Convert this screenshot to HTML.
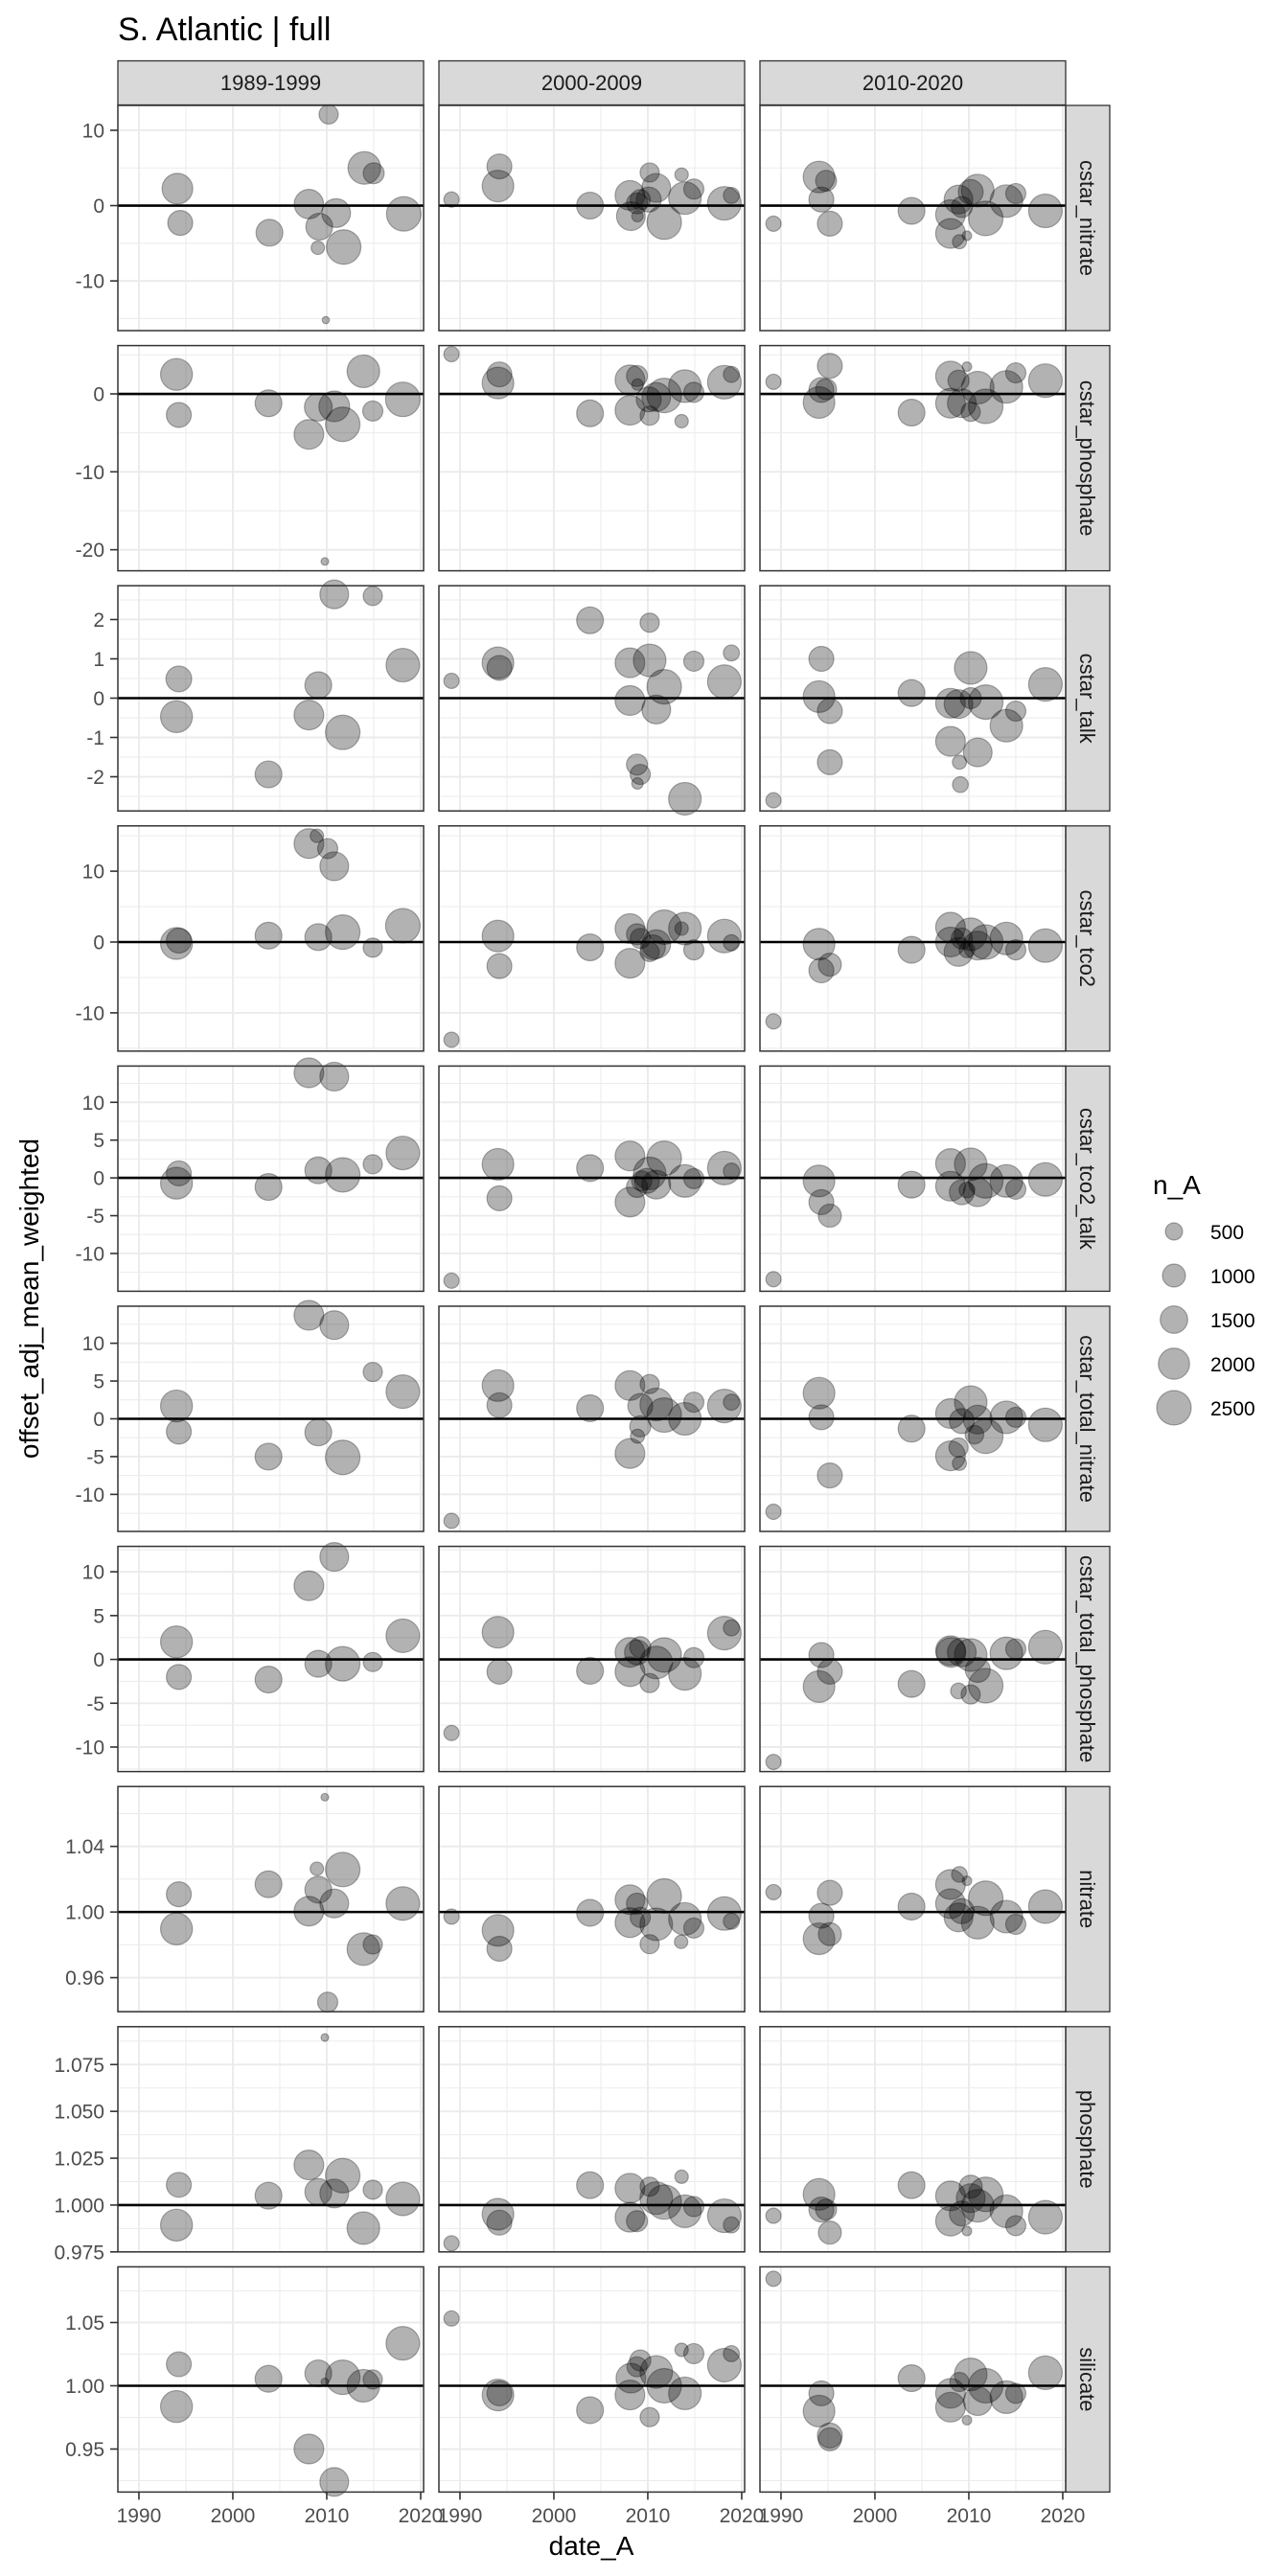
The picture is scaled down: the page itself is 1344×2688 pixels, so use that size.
<!DOCTYPE html>
<html><head><meta charset="utf-8">
<style>
html,body{margin:0;padding:0;background:#fff;}
svg{display:block;font-family:"Liberation Sans",sans-serif;}
</style></head>
<body>
<svg id="chart" width="1344" height="2688" viewBox="0 0 1344 2688" xmlns="http://www.w3.org/2000/svg">
<rect width="1344" height="2688" fill="#fff"/>
<text x="123" y="42" font-size="34" fill="#000">S. Atlantic | full</text>
<text x="617" y="2666" font-size="28" text-anchor="middle" fill="#000">date_A</text>
<text x="0" y="0" font-size="28" text-anchor="middle" fill="#000" transform="translate(40,1355) rotate(-90)">offset_adj_mean_weighted</text>
<g id="panels"></g>
<g id="legend">
<text x="1203" y="1246" font-size="28" fill="#000">n_A</text>
</g>
</svg>
<script>
const colLabels = ["1989-1999","2000-2009","2010-2020"];
const rowLabels = ["cstar_nitrate","cstar_phosphate","cstar_talk","cstar_tco2","cstar_tco2_talk","cstar_total_nitrate","cstar_total_phosphate","nitrate","phosphate","silicate"];
const yDomains = [[-16.6,13.3],[-22.7,6.2],[-2.87,2.86],[-15.4,16.4],[-15.0,14.8],[-14.9,14.9],[-12.8,12.9],[0.9392,1.0765],[0.975,1.0952],[0.916,1.094]];
const yTicks = [[-10,0,10],[-20,-10,0],[-2,-1,0,1,2],[-10,0,10],[-10,-5,0,5,10],[-10,-5,0,5,10],[-10,-5,0,5,10],[0.96,1.00,1.04],[0.975,1.000,1.025,1.050,1.075],[0.95,1.00,1.05]];
const yMinor = [[-15,-5,5],[-15,-5,5],[-2.5,-1.5,-0.5,0.5,1.5,2.5],[-15,-5,5,15],[-12.5,-7.5,-2.5,2.5,7.5,12.5],[-12.5,-7.5,-2.5,2.5,7.5,12.5],[-12.5,-7.5,-2.5,2.5,7.5,12.5],[0.94,0.98,1.02,1.06],[0.9875,1.0125,1.0375,1.0625,1.0875],[0.925,0.975,1.025,1.075]];
const yDigits = [0,0,0,0,0,0,0,2,3,2];
const refLines = [0,0,0,0,0,0,0,1,1,1];
const xTicks = [1990,2000,2010,2020];
const xMinor = [1995,2005,2015];
const legendValues = [500,1000,1500,2000,2500];

const panels = [
// row 0 cstar_nitrate
{row:0,col:0,year:[1994.1,1994.4,2003.9,2008.1,2010.2,2009.2,2009.05,2011.0,2011.8,2009.9,2014.0,2015.0,2018.2],
 value:[2.25,-2.3,-3.6,0.2,12.1,-2.8,-5.6,-1.0,-5.5,-15.2,5.0,4.3,-1.1],
 n:[1925,1200,1420,1740,650,1420,265,1660,2500,40,2200,800,2500]},
{row:0,col:1,year:[1989.1,1994.2,1994.05,2003.85,2008.1,2008.2,2008.85,2009.2,2008.9,2010.2,2010.9,2010.1,2011.75,2013.6,2013.95,2014.9,2018.15,2018.9],
 value:[0.8,5.2,2.6,0,1.35,-1.4,0.3,0.8,-1.4,4.4,2.35,0.8,-2.2,4.1,1.0,2.2,0.3,1.35],
 n:[370,1200,2060,1420,1790,1660,810,730,170,650,1660,1200,2500,265,2200,730,2350,420]},
{row:0,col:2,year:[1989.2,1994.05,1994.8,1994.3,1995.2,2003.9,2008.05,2008.05,2008.9,2009.0,2009.8,2009.25,2010.2,2010.95,2011.8,2014.0,2015.0,2018.15],
 value:[-2.4,3.8,3.3,0.8,-2.4,-0.7,-1.2,-3.7,0.8,-4.8,-4.0,-0.2,1.8,2.0,-1.7,0.6,1.6,-0.7],
 n:[370,2060,800,1200,1200,1420,1790,1790,1660,300,100,810,1200,2200,2500,2200,730,2350]},
// row 1 cstar_phosphate
{row:1,col:0,year:[1994.0,1994.25,2003.8,2008.1,2009.1,2009.8,2010.8,2011.7,2013.9,2014.9,2018.1],
 value:[2.5,-2.7,-1.2,-5.2,-1.7,-21.5,-1.6,-3.9,2.9,-2.2,-0.7],
 n:[2100,1200,1420,1790,1540,50,1925,2500,2200,730,2500]},
{row:1,col:1,year:[1989.1,1994.2,1994.05,2003.85,2008.1,2008.1,2008.85,2008.9,2010.2,2010.9,2010.1,2011.75,2013.6,2013.95,2014.9,2018.15,2018.9],
 value:[5.1,2.5,1.4,-2.5,1.8,-2.1,2.3,1.2,-2.8,-0.4,-0.7,-0.2,-3.5,1.0,0.2,1.5,2.5],
 n:[370,1200,2060,1420,1790,1790,810,170,650,1660,1200,2500,265,2200,730,2350,420]},
{row:1,col:2,year:[1989.2,1995.2,1994.05,1994.3,1994.8,2003.9,2008.05,2008.05,2008.9,2009.25,2009.8,2010.2,2010.95,2011.8,2014.0,2015.0,2018.15],
 value:[1.55,3.6,-1.1,0.5,0.6,-2.4,2.3,-1.2,1.7,-1.2,3.5,-2.3,0.8,-1.6,0.9,2.7,1.7],
 n:[370,1200,2060,1200,800,1420,1790,1790,810,1660,100,650,2200,2500,2200,730,2350]},
// row 2 cstar_talk
{row:2,col:0,year:[1994.0,1994.25,2003.8,2008.1,2009.1,2010.8,2011.7,2014.9,2018.1],
 value:[-0.47,0.49,-1.94,-0.43,0.33,2.64,-0.87,2.6,0.84],
 n:[2100,1300,1420,1790,1420,1660,2500,650,2350]},
{row:2,col:1,year:[1989.1,1994.2,1994.05,2003.85,2008.1,2008.1,2008.85,2008.9,2009.2,2010.2,2010.2,2010.9,2011.75,2013.95,2014.9,2018.15,2018.9],
 value:[0.44,0.77,0.9,1.98,0.9,-0.06,-1.69,-2.17,-1.94,1.92,0.96,-0.29,0.29,-2.56,0.94,0.42,1.15],
 n:[370,1200,2060,1420,1790,1790,810,170,730,650,2200,1660,2500,2200,730,2350,420]},
{row:2,col:2,year:[1989.2,1994.3,1994.05,1995.2,1995.2,2003.9,2008.05,2008.05,2008.9,2009.0,2009.1,2010.2,2010.95,2010.2,2011.8,2014.0,2015.0,2018.15],
 value:[-2.6,1.0,0.04,-0.33,-1.63,0.13,-0.13,-1.1,-0.15,-1.63,-2.2,0.77,-1.38,0,-0.1,-0.7,-0.33,0.35],
 n:[370,1200,2060,1200,1200,1420,1790,1790,1660,300,400,2200,1660,810,2500,2200,730,2350]},
// row 3 cstar_tco2
{row:3,col:0,year:[1994.0,1994.25,2003.8,2008.1,2008.95,2010.1,2010.8,2009.1,2011.7,2014.9,2018.1],
 value:[-0.2,0.2,0.9,13.9,15.0,13.2,10.7,0.7,1.4,-0.8,2.3],
 n:[2100,1200,1420,1790,265,730,1660,1420,2500,650,2500]},
{row:3,col:1,year:[1989.1,1994.05,1994.2,2003.85,2008.1,2008.1,2008.85,2009.2,2010.2,2010.9,2011.75,2010.55,2013.6,2013.95,2014.9,2018.15,2018.9],
 value:[-13.8,0.85,-3.4,-0.75,1.9,-3.0,1.1,0.5,-1.4,-0.3,2.1,-0.75,1.9,1.9,-1.1,0.85,-0.1],
 n:[370,2060,1200,1420,1790,1790,810,730,650,1660,2500,1200,265,2200,730,2350,420]},
{row:3,col:2,year:[1989.2,1994.05,1994.3,1995.2,2003.9,2008.05,2008.05,2008.9,2009.25,2009.8,2010.2,2010.95,2011.8,2014.0,2015.0,2018.15],
 value:[-11.2,-0.3,-4.0,-3.2,-1.1,2.1,0,-1.4,0.5,-1.1,1.1,-0.5,0,0.5,-1.1,-0.5],
 n:[370,2060,1200,1000,1420,1790,1790,1660,810,400,2200,1660,2500,2200,730,2350]},
// row 4 cstar_tco2_talk
{row:4,col:0,year:[1994.0,1994.25,2003.8,2008.1,2010.8,2009.1,2011.7,2014.9,2018.1],
 value:[-0.7,0.6,-1.2,13.9,13.4,1.0,0.4,1.8,3.3],
 n:[2100,1200,1420,1790,1660,1420,2500,650,2350]},
{row:4,col:1,year:[1989.1,1994.05,1994.2,2003.85,2008.1,2008.1,2008.85,2009.35,2010.2,2010.9,2011.75,2009.9,2013.95,2014.9,2018.15,2018.9],
 value:[-13.6,1.8,-2.7,1.3,2.9,-3.2,-1.2,-0.4,0.6,-0.9,2.6,-0.4,-0.4,-0.1,1.3,0.9],
 n:[370,2060,1200,1420,1790,1790,810,730,2200,1660,2500,1200,2200,730,2350,420]},
{row:4,col:2,year:[1989.2,1994.05,1994.3,1995.2,2003.9,2008.05,2008.05,2009.25,2010.2,2010.95,2011.8,2014.0,2015.0,2018.15,2009.8],
 value:[-13.4,-0.4,-3.2,-5.0,-0.9,1.9,-1.1,-1.9,1.8,-1.9,-0.4,-0.4,-1.5,-0.2,-1.6],
 n:[370,2060,1200,1000,1420,1790,1790,1200,2200,1660,2500,2200,730,2350,400]},
// row 5 cstar_total_nitrate
{row:5,col:0,year:[1994.0,1994.25,2003.8,2008.1,2010.8,2009.1,2011.7,2014.9,2018.1],
 value:[1.7,-1.7,-5.0,13.7,12.4,-1.8,-5.1,6.2,3.6],
 n:[2100,1200,1420,1790,1660,1420,2500,650,2350]},
{row:5,col:1,year:[1989.1,1994.05,1994.2,2003.85,2008.1,2008.1,2009.2,2008.9,2010.2,2010.9,2011.75,2013.95,2014.9,2018.15,2018.9,2009.2],
 value:[-13.5,4.4,1.8,1.4,4.4,-4.6,-1.0,-2.3,4.6,1.9,0.5,0,2.2,1.7,2.2,1.7],
 n:[370,2060,1200,1420,1790,1790,810,300,650,2200,2500,2200,730,2350,420,1200]},
{row:5,col:2,year:[1989.2,1994.05,1994.3,1995.2,2003.9,2008.05,2008.05,2008.9,2009.0,2009.25,2010.2,2010.6,2010.95,2011.8,2014.0,2015.0,2018.15],
 value:[-12.3,3.4,0.2,-7.5,-1.3,0.7,-4.9,-3.8,-5.9,-0.3,2.2,-2.1,-0.1,-2.3,0.2,0.2,-0.8],
 n:[370,2060,1200,1200,1420,1790,1790,650,300,1200,2200,600,1660,2500,2200,730,2350]},
// row 6 cstar_total_phosphate
{row:6,col:0,year:[1994.0,1994.25,2003.8,2008.1,2010.8,2009.1,2011.7,2014.9,2018.1],
 value:[2.0,-2.0,-2.3,8.4,11.7,-0.5,-0.5,-0.3,2.7],
 n:[2100,1200,1420,1790,1660,1420,2500,650,2350]},
{row:6,col:1,year:[1989.1,1994.05,1994.2,2003.85,2008.1,2008.1,2009.2,2010.2,2010.9,2011.75,2013.95,2014.9,2018.15,2018.9,2008.85],
 value:[-8.4,3.1,-1.4,-1.3,0.8,-1.4,1.4,-2.7,-0.35,0.5,-1.65,0.2,3.0,3.6,0.8],
 n:[370,2060,1200,1420,1790,1790,810,650,2200,2500,2200,730,2350,420,1200]},
{row:6,col:2,year:[1989.2,1994.3,1994.05,1995.2,2003.9,2008.05,2008.1,2009.25,2008.9,2010.2,2010.2,2010.95,2011.8,2014.0,2015.0,2018.15],
 value:[-11.7,0.5,-3.1,-1.4,-2.8,1.0,0.8,0.8,-3.6,-4.0,0.5,-1.2,-3.0,0.7,1.2,1.4],
 n:[370,1200,2060,1200,1420,1790,1790,1660,400,650,2200,1200,2500,2200,730,2350]},
// row 7 nitrate
{row:7,col:0,year:[1994.0,1994.25,2003.8,2008.1,2008.95,2009.8,2009.1,2010.1,2010.8,2011.7,2013.9,2014.9,2018.1],
 value:[0.9897,1.0108,1.0169,1.0005,1.0264,1.070,1.0136,0.945,1.0052,1.0259,0.9774,0.9802,1.0052],
 n:[2100,1200,1420,1790,265,50,1420,730,1660,2500,2200,650,2350]},
{row:7,col:1,year:[1989.1,1994.05,1994.2,2003.85,2008.1,2008.1,2008.85,2009.2,2010.2,2010.9,2011.75,2013.55,2013.95,2014.9,2018.15,2018.9],
 value:[0.9972,0.9888,0.9776,0.9995,1.0075,0.9935,1.0051,0.9967,0.9804,0.9925,1.0098,0.9818,0.9958,0.9902,0.9991,0.9944],
 n:[370,2060,1200,1420,1790,1790,810,730,650,2200,2500,265,2200,730,2350,420]},
{row:7,col:2,year:[1989.2,1994.05,1994.3,1995.2,1995.2,2003.9,2008.05,2008.05,2009.0,2009.8,2009.25,2008.9,2010.95,2011.8,2014.0,2015.0,2018.15],
 value:[1.0121,0.9837,0.9977,1.0117,0.9865,1.0033,1.0168,1.0051,1.0229,1.019,1.0005,0.9967,0.9935,1.0084,0.9972,0.9925,1.0033],
 n:[370,2060,1200,1200,1000,1420,1790,1790,400,100,1200,1660,2200,2500,2200,730,2350]},
// row 8 phosphate
{row:8,col:0,year:[1994.0,1994.25,2003.8,2008.1,2009.8,2009.1,2010.8,2011.7,2013.9,2014.9,2018.1],
 value:[0.9893,1.0108,1.005,1.0214,1.0894,1.007,1.0062,1.0157,0.9877,1.0082,1.0033],
 n:[2100,1200,1420,1790,50,1420,1660,2500,2200,650,2350]},
{row:8,col:1,year:[1989.1,1994.05,1994.2,2003.85,2008.1,2008.1,2008.85,2010.2,2010.9,2011.75,2013.6,2013.95,2014.9,2018.15,2018.9],
 value:[0.9796,0.9951,0.9906,1.0106,1.009,0.9935,0.9914,1.0098,1.0037,1.0016,1.0151,0.9967,0.9992,0.9943,0.9894],
 n:[370,2060,1200,1420,1790,1790,810,650,2200,2500,265,2200,730,2350,420]},
{row:8,col:2,year:[1989.2,1994.05,1994.3,1994.8,1995.2,2003.9,2008.05,2008.05,2009.25,2009.8,2010.2,2010.2,2011.8,2010.95,2014.0,2015.0,2018.15],
 value:[0.9943,1.0057,0.9976,0.9976,0.9853,1.0106,1.0049,0.9914,0.9955,0.9861,1.0098,1.0037,1.0057,0.9996,0.9967,0.989,0.9935],
 n:[370,2060,1200,800,1000,1420,1790,1790,1200,100,1000,1660,2500,2200,2200,730,2350]},
// row 9 silicate
{row:9,col:0,year:[1994.0,1994.25,2003.8,2008.1,2009.1,2009.8,2010.8,2011.7,2013.9,2014.9,2018.1],
 value:[0.9836,1.017,1.0055,0.95,1.0098,1.003,0.924,1.0067,1.0,1.005,1.0336],
 n:[2100,1200,1420,1790,1420,50,1660,2500,2200,650,2350]},
{row:9,col:1,year:[1989.1,1994.05,1994.2,2003.85,2008.1,2008.2,2009.2,2008.85,2010.2,2010.9,2011.75,2013.6,2013.95,2014.9,2018.15,2018.9],
 value:[1.0532,0.9927,0.994,0.9807,0.9927,1.006,1.02,1.015,0.9752,1.0109,1.0,1.0284,0.994,1.0254,1.0163,1.0254],
 n:[370,2060,1200,1420,1790,1790,810,730,650,2200,2500,265,2200,730,2350,420]},
{row:9,col:2,year:[1989.2,1994.3,1994.05,1995.2,1995.2,2003.9,2008.05,2008.05,2009.0,2009.8,2010.2,2010.95,2011.8,2014.0,2015.0,2018.15],
 value:[1.0846,0.994,0.980,0.9607,0.9577,1.006,0.9831,0.994,1.003,0.9728,1.009,0.9879,1.0,0.991,0.994,1.0103],
 n:[370,1200,2060,1200,1000,1420,1790,1790,650,100,2200,1660,2500,2200,730,2350]}
];

const NS = "http://www.w3.org/2000/svg";
const colLeft = [123,458,793], panelW = 319, panelH = 235, rowTop0 = 110, rowPitch = 250.6;
const xDomain = [1987.76, 2020.31];
function el(tag, attrs, parent){ const e=document.createElementNS(NS,tag); for(const k in attrs) e.setAttribute(k,attrs[k]); parent.appendChild(e); return e; }
function xScale(c, yr){ return colLeft[c] + (yr - xDomain[0])/(xDomain[1]-xDomain[0])*panelW; }
function yScale(r, v){ const t = rowTop0 + r*rowPitch; const d=yDomains[r]; return t + (d[1]-v)/(d[1]-d[0])*panelH; }
function radius(n){ return 1.7 + 0.326*Math.sqrt(n); }

const root = document.getElementById('panels');
// strips top
colLabels.forEach((lab,c)=>{
  const g = el('g',{},root);
  
  
  el('rect',{x:colLeft[c],y:63.5,width:panelW,height:46,fill:'#d9d9d9',stroke:'#333','stroke-width':1.3},g);
  const t = el('text',{x:colLeft[c]+panelW/2,y:94,'font-size':22,'text-anchor':'middle',fill:'#1a1a1a'},g);
  t.textContent = lab;
});
for(let r=0;r<10;r++){
  const top = rowTop0 + r*rowPitch;
  // right strip
  const sg = el('g',{},root);
  
  
  el('rect',{x:1112,y:top,width:46,height:panelH,fill:'#d9d9d9',stroke:'#333','stroke-width':1.3},sg);
  const st = el('text',{x:0,y:0,'font-size':22,'text-anchor':'middle',fill:'#1a1a1a',transform:`translate(1127,${top+panelH/2}) rotate(90)`},sg);
  st.textContent = rowLabels[r];
  // y axis labels
  const ya = el('g',{},root);
  
  
  yTicks[r].forEach(v=>{
    const y = yScale(r,v);
    el('line',{x1:115,x2:123,y1:y,y2:y,stroke:'#333','stroke-width':1.6},ya);
    const t = el('text',{x:109,y:y+7.5,'font-size':21,'text-anchor':'end',fill:'#4d4d4d'},ya);
    t.textContent = v.toFixed(yDigits[r]);
  });
  for(let c=0;c<3;c++){
    const L = colLeft[c];
    const pg = el('g',{},root);
    
    
    el('rect',{x:L,y:top,width:panelW,height:panelH,fill:'#fff'},pg);
    yMinor[r].forEach(v=>{ const y=yScale(r,v); if(y>top&&y<top+panelH) el('line',{x1:L,x2:L+panelW,y1:y,y2:y,stroke:'#ebebeb','stroke-width':1},pg); });
    xMinor.forEach(v=>{ const x=xScale(c,v); el('line',{x1:x,x2:x,y1:top,y2:top+panelH,stroke:'#ebebeb','stroke-width':1},pg); });
    yTicks[r].forEach(v=>{ const y=yScale(r,v); el('line',{x1:L,x2:L+panelW,y1:y,y2:y,stroke:'#ebebeb','stroke-width':1.9},pg); });
    xTicks.forEach(v=>{ const x=xScale(c,v); el('line',{x1:x,x2:x,y1:top,y2:top+panelH,stroke:'#ebebeb','stroke-width':1.9},pg); });
    const yr = yScale(r, refLines[r]);
    const hl = el('line',{x1:L,x2:L+panelW,y1:yr,y2:yr,stroke:'#000','stroke-width':2.6},pg);
    
    
    const p = panels.find(q=>q.row===r&&q.col===c);
    if(p){
      p.year.forEach((yy,i)=>{
        const ci = el('circle',{cx:xScale(c,yy),cy:yScale(r,p.value[i]),r:radius(p.n[i]),fill:'rgba(0,0,0,0.3)',stroke:'rgba(0,0,0,0.3)','stroke-width':1.2},pg);
        
        
      });
    }
    el('rect',{x:L,y:top,width:panelW,height:panelH,fill:'none',stroke:'#333','stroke-width':1.5},pg);
    if(r===9){
      const xa = el('g',{},root);
      
      
      xTicks.forEach(v=>{
        const x=xScale(c,v);
        el('line',{x1:x,x2:x,y1:top+panelH,y2:top+panelH+8,stroke:'#333','stroke-width':1.6},xa);
        const t = el('text',{x:x,y:2632,'font-size':21,'text-anchor':'middle',fill:'#4d4d4d'},xa);
        t.textContent = v;
      });
    }
  }
}
// legend
const lg = document.getElementById('legend');
legendValues.forEach((v,i)=>{
  const cy = 1285 + i*46;
  const g = el('g',{},lg);
  
  
  el('circle',{cx:1225,cy:cy,r:radius(v),fill:'rgba(0,0,0,0.3)',stroke:'rgba(0,0,0,0.3)','stroke-width':1.2},g);
  const t = el('text',{x:1263,y:cy+8,'font-size':21,fill:'#000'},g);
  t.textContent = v;
});
</script>
</body></html>
